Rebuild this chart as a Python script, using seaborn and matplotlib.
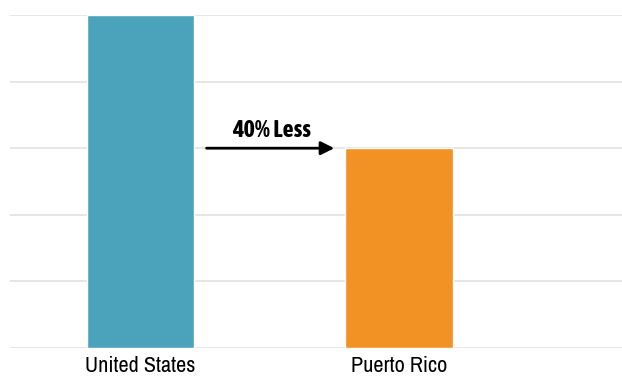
import matplotlib
matplotlib.use("Agg")
import matplotlib.pyplot as plt
from matplotlib import font_manager
import matplotlib.patheffects as pe
import seaborn as sns
import pandas as pd

categories = ["United States", "Puerto Rico"]
values = [5, 3]
colors = ["#4AA3BA", "#F39224"]
annotation = "40% Less"

sns.set_style("white")

# pick a narrow/condensed family if available
narrow = None
bold_narrow = None
for f in font_manager.fontManager.ttflist:
    if "Narrow" in f.name or "Condensed" in f.name:
        if narrow is None:
            narrow = f.name
        w = f.weight if isinstance(f.weight, int) else 400
        if isinstance(f.weight, str) and "bold" in f.weight.lower():
            w = 700
        if w >= 600 and bold_narrow is None:
            bold_narrow = f.name
if narrow is None:
    narrow = "DejaVu Sans"
    label_size, ann_size = 12.5, 12.5
else:
    label_size, ann_size = 16, 17.5

plt.rcParams['font.family'] = [narrow, 'DejaVu Sans']

df = pd.DataFrame({"cat": categories, "val": values})
fig = plt.figure(figsize=(6.22, 3.78), dpi=100)
ax = fig.add_axes([10/622, 30/378, 1.0, 333/378])
sns.barplot(data=df, x="cat", y="val", hue="cat", palette=colors, width=0.415,
            legend=False, ax=ax, saturation=1, zorder=3)
ax.set_xlim(-0.504, 1.9)
ax.set_ylim(0, 5)
ax.set_yticks([0, 1, 2, 3, 4, 5])
ax.yaxis.grid(True, color="#e4e4e4", linewidth=1.3, zorder=0)
ax.set_axisbelow(True)
for s in ax.spines.values():
    s.set_visible(False)
ax.tick_params(axis="y", left=False, labelleft=False)
ax.tick_params(axis="x", bottom=False, labelsize=label_size, labelcolor="black", pad=2)
ax.set_xlabel("")
ax.set_ylabel("")

ax.annotate("", xy=(0.76, values[1]), xytext=(0.245, values[1]),
            arrowprops=dict(arrowstyle="-|>,head_length=0.8,head_width=0.4", color="black", lw=2))
t = ax.text(0.505, values[1] + 0.1, annotation, ha="center", va="bottom",
            fontsize=ann_size, fontweight="bold", color="black",
            family=[bold_narrow or narrow, 'DejaVu Sans'])
if bold_narrow is None:
    t.set_path_effects([pe.withStroke(linewidth=1.1, foreground="black")])

fig.savefig("out.png", dpi=100)
